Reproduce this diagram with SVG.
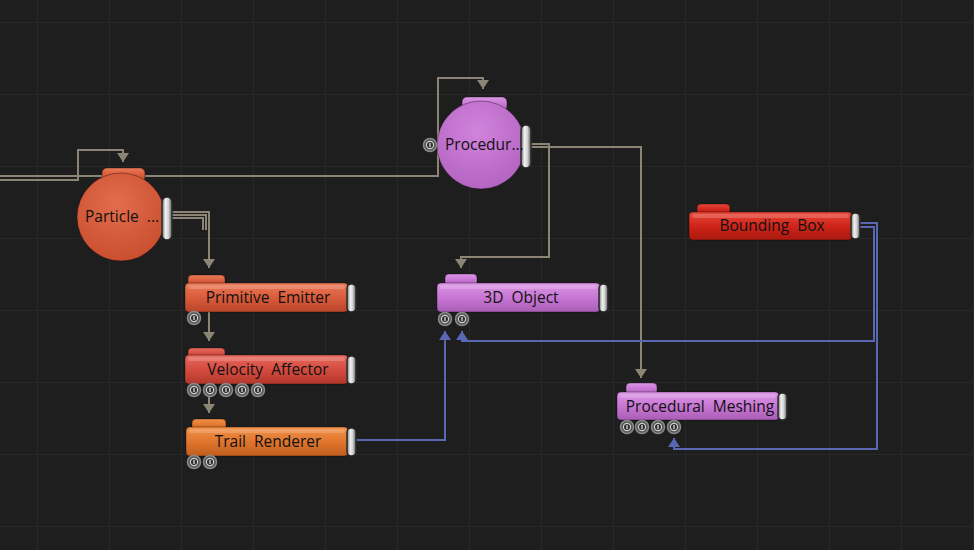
<svg xmlns="http://www.w3.org/2000/svg" width="974" height="550" viewBox="0 0 974 550">
<defs>
  <pattern id="grid" x="37" y="22" width="72" height="72" patternUnits="userSpaceOnUse">
    <path d="M0 0 H72 M0 0 V72" stroke="#282828" stroke-width="2" fill="none"/>
  </pattern>
  <linearGradient id="gOrangeRed" x1="0" y1="0" x2="0" y2="1">
    <stop offset="0" stop-color="#ea7a58"/><stop offset="0.5" stop-color="#d95c3b"/><stop offset="1" stop-color="#b8452a"/>
  </linearGradient>
  <linearGradient id="gRed" x1="0" y1="0" x2="0" y2="1">
    <stop offset="0" stop-color="#e86a5e"/><stop offset="0.5" stop-color="#d44c40"/><stop offset="1" stop-color="#b3372c"/>
  </linearGradient>
  <linearGradient id="gOrange" x1="0" y1="0" x2="0" y2="1">
    <stop offset="0" stop-color="#f2914a"/><stop offset="0.5" stop-color="#e0762e"/><stop offset="1" stop-color="#c05e1e"/>
  </linearGradient>
  <linearGradient id="gViolet" x1="0" y1="0" x2="0" y2="1">
    <stop offset="0" stop-color="#dc96e6"/><stop offset="0.5" stop-color="#c877d4"/><stop offset="1" stop-color="#a95db6"/>
  </linearGradient>
  <linearGradient id="gBright" x1="0" y1="0" x2="0" y2="1">
    <stop offset="0" stop-color="#e8483a"/><stop offset="0.5" stop-color="#cf2419"/><stop offset="1" stop-color="#a91a10"/>
  </linearGradient>
  <radialGradient id="rOrangeRed" cx="0.45" cy="0.35" r="0.7">
    <stop offset="0" stop-color="#e26d4c"/><stop offset="1" stop-color="#c84d2e"/>
  </radialGradient>
  <radialGradient id="rViolet" cx="0.45" cy="0.35" r="0.7">
    <stop offset="0" stop-color="#d184dc"/><stop offset="1" stop-color="#b262c0"/>
  </radialGradient>
  <linearGradient id="gPort" x1="0" y1="0" x2="1" y2="0">
    <stop offset="0" stop-color="#6a6a6a"/><stop offset="0.35" stop-color="#f2f2f2"/><stop offset="0.65" stop-color="#d0d0d0"/><stop offset="1" stop-color="#5a5a5a"/>
  </linearGradient>
  <marker id="aGray" markerUnits="userSpaceOnUse" markerWidth="14" markerHeight="12" refX="9" refY="6" orient="auto">
    <path d="M0 0 L9 6 L0 12 Z" fill="#8c8474"/>
  </marker>
  <marker id="aBlue" markerUnits="userSpaceOnUse" markerWidth="14" markerHeight="12" refX="9" refY="6" orient="auto">
    <path d="M0 0 L9 6 L0 12 Z" fill="#5a68b4"/>
  </marker>
  <g id="inport">
    <circle r="6.5" fill="#555" stroke="#8a8a8a" stroke-width="1.5"/>
    <circle r="3.6" fill="#2e2e2e" stroke="#cfcfcf" stroke-width="1.2"/>
    <rect x="-0.8" y="-2" width="1.6" height="4" fill="#bbb"/>
  </g>
</defs>
<style>
  .lbl { font-family: "Open Sans", "DejaVu Sans", sans-serif; font-size: 15.5px; fill: #111; white-space: pre; }
  .gray { fill: none; stroke: #8c8474; stroke-width: 2; }
  .blue { fill: none; stroke: #5a68b4; stroke-width: 2; }
  .outline { stroke: rgba(0,0,0,0.35); stroke-width: 1; }
  .port { fill: url(#gPort); stroke: #2a2a2a; stroke-width: 1.5; }
  .hl { fill: rgba(255,255,255,0.18); }
</style>
<rect width="974" height="550" fill="#1e1e1e"/>
<rect width="974" height="550" fill="url(#grid)"/>

<g id="connectors">
  <path class="gray" d="M0 180 H78 V150 H123 V162" marker-end="url(#aGray)"/>
  <path class="gray" d="M0 176 H438 V78 H483 V89" marker-end="url(#aGray)"/>
  <path class="gray" d="M172 212 H209 V268" marker-end="url(#aGray)"/>
  <path class="gray" d="M172 215 H206 V230"/>
  <path class="gray" d="M172 218 H203 V230"/>
  <path class="gray" d="M209 312 V341" marker-end="url(#aGray)"/>
  <path class="gray" d="M209 395 V413" marker-end="url(#aGray)"/>
  <path class="gray" d="M531 144 H549 V257 H461 V268" marker-end="url(#aGray)"/>
  <path class="gray" d="M531 147 H641 V378" marker-end="url(#aGray)"/>
  <path class="blue" d="M356 440 H445 V331" marker-end="url(#aBlue)"/>
  <path class="blue" d="M860 223 H877 V449 H674 V438" marker-end="url(#aBlue)"/>
  <path class="blue" d="M860 227 H874 V341 H462 V331" marker-end="url(#aBlue)"/>
</g>

<g id="node-particle">
  <rect x="102" y="168" width="43" height="14" rx="5" fill="url(#gOrangeRed)" class="outline"/>
  <circle cx="121" cy="217" r="44" fill="url(#rOrangeRed)" class="outline"/>
  <rect x="162" y="197" width="10" height="43" rx="5" class="port"/>
  <text x="85" y="222" class="lbl">Particle  ...</text>
</g>

<g id="node-procedural">
  <rect x="462" y="97" width="45" height="14" rx="5" fill="url(#gViolet)" class="outline"/>
  <circle cx="481" cy="145" r="44" fill="url(#rViolet)" class="outline"/>
  <rect x="521" y="125" width="10" height="43" rx="5" class="port"/>
  <use href="#inport" x="430" y="145"/>
  <text x="445" y="150" class="lbl">Procedur...</text>
</g>

<g id="node-primitive-emitter">
  <rect x="188" y="275" width="37" height="12" rx="4" fill="url(#gOrangeRed)" class="outline"/>
  <rect x="185" y="283" width="163" height="29" rx="4" fill="url(#gOrangeRed)" class="outline"/>
  <rect x="188" y="285" width="157" height="4" rx="2" class="hl"/>
  <rect x="347" y="284" width="9" height="28" rx="4.5" class="port"/>
  <use href="#inport" x="194" y="318"/>
  <text x="268" y="303" text-anchor="middle" class="lbl">Primitive  Emitter</text>
</g>

<g id="node-velocity-affector">
  <rect x="188" y="348" width="37" height="12" rx="4" fill="url(#gRed)" class="outline"/>
  <rect x="185" y="355" width="163" height="29" rx="4" fill="url(#gRed)" class="outline"/>
  <rect x="188" y="357" width="157" height="4" rx="2" class="hl"/>
  <rect x="347" y="356" width="9" height="28" rx="4.5" class="port"/>
  <use href="#inport" x="194" y="390"/>
  <use href="#inport" x="210" y="390"/>
  <use href="#inport" x="226" y="390"/>
  <use href="#inport" x="242" y="390"/>
  <use href="#inport" x="258" y="390"/>
  <text x="268" y="375" text-anchor="middle" class="lbl">Velocity  Affector</text>
</g>

<g id="node-trail-renderer">
  <rect x="192" y="419" width="34" height="12" rx="4" fill="url(#gOrange)" class="outline"/>
  <rect x="186" y="427" width="162" height="29" rx="4" fill="url(#gOrange)" class="outline"/>
  <rect x="189" y="429" width="156" height="4" rx="2" class="hl"/>
  <rect x="347" y="428" width="9" height="28" rx="4.5" class="port"/>
  <use href="#inport" x="194" y="462"/>
  <use href="#inport" x="210" y="462"/>
  <text x="268" y="447" text-anchor="middle" class="lbl">Trail  Renderer</text>
</g>

<g id="node-3d-object">
  <rect x="445" y="274" width="32" height="12" rx="4" fill="url(#gViolet)" class="outline"/>
  <rect x="437" y="283" width="163" height="29" rx="4" fill="url(#gViolet)" class="outline"/>
  <rect x="440" y="285" width="157" height="4" rx="2" class="hl"/>
  <rect x="599" y="284" width="9" height="28" rx="4.5" class="port"/>
  <use href="#inport" x="445" y="319"/>
  <use href="#inport" x="462" y="319"/>
  <text x="521" y="303" text-anchor="middle" class="lbl">3D  Object</text>
</g>

<g id="node-procedural-meshing">
  <rect x="626" y="383" width="31" height="12" rx="4" fill="url(#gViolet)" class="outline"/>
  <rect x="617" y="392" width="162" height="28" rx="4" fill="url(#gViolet)" class="outline"/>
  <rect x="620" y="394" width="156" height="4" rx="2" class="hl"/>
  <rect x="778" y="393" width="9" height="27" rx="4.5" class="port"/>
  <use href="#inport" x="627" y="427"/>
  <use href="#inport" x="642" y="427"/>
  <use href="#inport" x="658" y="427"/>
  <use href="#inport" x="674" y="427"/>
  <text x="700" y="412" text-anchor="middle" class="lbl">Procedural  Meshing</text>
</g>

<g id="node-bounding-box">
  <rect x="697" y="204" width="33" height="12" rx="4" fill="url(#gBright)" class="outline"/>
  <rect x="689" y="212" width="163" height="28" rx="4" fill="url(#gBright)" class="outline"/>
  <rect x="692" y="214" width="157" height="4" rx="2" class="hl"/>
  <rect x="851" y="213" width="9" height="26" rx="4.5" class="port"/>
  <text x="772" y="231" text-anchor="middle" class="lbl">Bounding  Box</text>
</g>
</svg>
